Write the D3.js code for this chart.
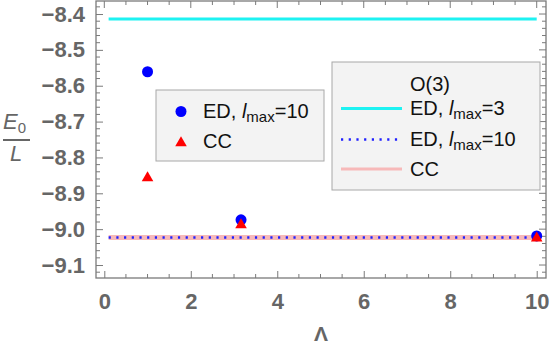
<!DOCTYPE html>
<html>
<head>
<meta charset="utf-8">
<script src="https://cdn.jsdelivr.net/npm/d3@7"></script>
<style>
  body { margin: 0; background: #fff; }
  text { font-family: "Liberation Sans", Arial, sans-serif; }
</style>
</head>
<body>
<svg id="chart" width="552" height="347"></svg>
<script>
// data
const lambdas = [1, 3.162, 10]
const edPoints = [-8.561, -8.974, -9.019]
const ccPoints = [-8.857, -8.988, -9.025]
const lineSpan = [0.1, 10]
const o3EdL3 = -8.414
const o3EdL10 = -9.023
const o3CC = -9.023
const xTicks = [0, 2, 4, 6, 8, 10]
const yTicks = [-8.4, -8.5, -8.6, -8.7, -8.8, -8.9, -9.0, -9.1]

const svg = d3.select('#chart')
const pLeft = 96, pRight = 546, pTop = 1, pBottom = 278
const frameColor = '#7a7a7a'
const labelColor = '#666'

const x = d3.scaleLinear().domain([-0.192, 10.215]).range([pLeft, pRight])
const y = d3.scaleLinear().domain([-8.3637, -9.1362]).range([pTop, pBottom])

// frame + ticks (Mathematica style, ticks inward on all four sides)
const xMinor = d3.range(0, 10.01, 0.5)
const yMinor = d3.range(-9.12, -8.36, 0.02)

const gx = svg.append('g').attr('transform', `translate(0,${pBottom})`)
  .call(d3.axisBottom(x).tickValues(xTicks).tickSize(-7).tickPadding(15)
    .tickFormat(d3.format('d')))
gx.select('.domain').remove()
gx.selectAll('line').attr('stroke', frameColor)
gx.selectAll('text').attr('fill', labelColor).attr('font-size', 22)
  .attr('font-weight', 'bold')

const gy = svg.append('g').attr('transform', `translate(${pLeft},0)`)
  .call(d3.axisLeft(y).tickValues(yTicks).tickSize(-7).tickPadding(11)
    .tickFormat(d => d3.format('.1f')(d).replace('-', '\u2212')))
gy.select('.domain').remove()
gy.selectAll('line').attr('stroke', frameColor)
gy.selectAll('text').attr('fill', labelColor).attr('font-size', 22)
  .attr('font-weight', 'bold')

const ticks = svg.append('g').attr('stroke', frameColor).attr('stroke-width', 1)
xMinor.forEach(v => {
  const major = xTicks.includes(v)
  const len = major ? 7 : 4
  if (!major) ticks.append('line').attr('x1', x(v)).attr('x2', x(v)).attr('y1', pBottom).attr('y2', pBottom - len)
  ticks.append('line').attr('x1', x(v)).attr('x2', x(v)).attr('y1', pTop).attr('y2', pTop + len)
})
yMinor.forEach(v => {
  const major = yTicks.some(t => Math.abs(t - v) < 1e-6)
  const len = major ? 7 : 4
  if (!major) ticks.append('line').attr('x1', pLeft).attr('x2', pLeft + len).attr('y1', y(v)).attr('y2', y(v))
  ticks.append('line').attr('x1', pRight).attr('x2', pRight - len).attr('y1', y(v)).attr('y2', y(v))
})

svg.append('rect')
  .attr('x', pLeft).attr('y', pTop).attr('width', pRight - pLeft).attr('height', pBottom - pTop)
  .attr('fill', 'none').attr('stroke', frameColor).attr('stroke-width', 1.3)

// O(3) reference lines
const hline = (val, color, width, dash) => {
  svg.append('line')
    .attr('x1', x(lineSpan[0])).attr('x2', x(lineSpan[1]))
    .attr('y1', y(val)).attr('y2', y(val))
    .attr('stroke', color).attr('stroke-width', width)
    .attr('stroke-dasharray', dash || null)
}
hline(o3EdL3, '#1ef2f2', 3)
hline(o3CC, '#f7b9b9', 5)
hline(o3EdL10, '#2020ff', 2.5, '2.2,5.5')

// points
svg.append('g').selectAll('circle')
  .data(lambdas.map((l, i) => [l, edPoints[i]]))
  .join('circle')
  .attr('cx', d => x(d[0])).attr('cy', d => y(d[1])).attr('r', 5.5)
  .attr('fill', '#0000ff')

const tri = d3.symbol().type(d3.symbolTriangle).size(58)
svg.append('g').selectAll('path')
  .data(lambdas.map((l, i) => [l, ccPoints[i]]))
  .join('path')
  .attr('d', tri)
  .attr('transform', d => `translate(${x(d[0])},${y(d[1])})`)
  .attr('fill', '#ff0000')

// axis labels
const yl = svg.append('g').attr('fill', labelColor)
const e0 = yl.append('text').attr('x', 3).attr('y', 129).attr('font-size', 22)
e0.append('tspan').attr('font-style', 'italic').text('E')
e0.append('tspan').attr('font-size', 15).attr('dy', 4).text('0')
yl.append('rect').attr('x', 3).attr('y', 139).attr('width', 27).attr('height', 2)
yl.append('text').attr('x', 16).attr('y', 161).attr('font-size', 22)
  .attr('font-style', 'italic').attr('text-anchor', 'middle').text('L')

svg.append('text').attr('x', (pLeft + pRight) / 2).attr('y', 341)
  .attr('text-anchor', 'middle').attr('font-size', 21).attr('font-weight', 'bold')
  .attr('fill', labelColor).text('\u039b')

// legend text helper: "ED, l_max=N"
const lmaxText = (g, tx, ty, n) => {
  const t = g.append('text').attr('x', tx).attr('y', ty).attr('font-size', 20).attr('fill', '#111')
  t.append('tspan').text('ED, ')
  t.append('tspan').attr('font-style', 'italic').text('l')
  t.append('tspan').attr('font-size', 15).attr('dy', 4).text('max')
  t.append('tspan').attr('dy', -4).text('=' + n)
}

// legend 1 (points)
const lg1 = svg.append('g')
lg1.append('rect').attr('x', 156).attr('y', 90).attr('width', 168).attr('height', 71)
  .attr('fill', '#f3f3f3').attr('stroke', '#a8a8a8')
lg1.append('circle').attr('cx', 181).attr('cy', 111.5).attr('r', 5.5).attr('fill', '#0000ff')
lmaxText(lg1, 203, 118, 10)
lg1.append('path').attr('d', tri).attr('transform', 'translate(181,143)').attr('fill', '#ff0000')
lg1.append('text').attr('x', 203).attr('y', 148).attr('font-size', 20).attr('fill', '#111').text('CC')

// legend 2 (O(3) lines)
const lg2 = svg.append('g')
lg2.append('rect').attr('x', 332).attr('y', 62).attr('width', 208).attr('height', 128)
  .attr('fill', '#f3f3f3').attr('stroke', '#a8a8a8')
lg2.append('text').attr('x', 410).attr('y', 91).attr('font-size', 20).attr('fill', '#111').text('O(3)')
const legRows = [
  {yy: 108.5, color: '#1ef2f2', w: 3, dash: null},
  {yy: 139.5, color: '#2020ff', w: 2.5, dash: '2.2,5.5'},
  {yy: 169, color: '#f7b9b9', w: 3, dash: null}
]
legRows.forEach(r => {
  lg2.append('line').attr('x1', 341).attr('x2', 402).attr('y1', r.yy).attr('y2', r.yy)
    .attr('stroke', r.color).attr('stroke-width', r.w).attr('stroke-dasharray', r.dash)
})
lmaxText(lg2, 410, 115, 3)
lmaxText(lg2, 410, 146, 10)
lg2.append('text').attr('x', 410).attr('y', 176).attr('font-size', 20).attr('fill', '#111').text('CC')
</script>
</body>
</html>
